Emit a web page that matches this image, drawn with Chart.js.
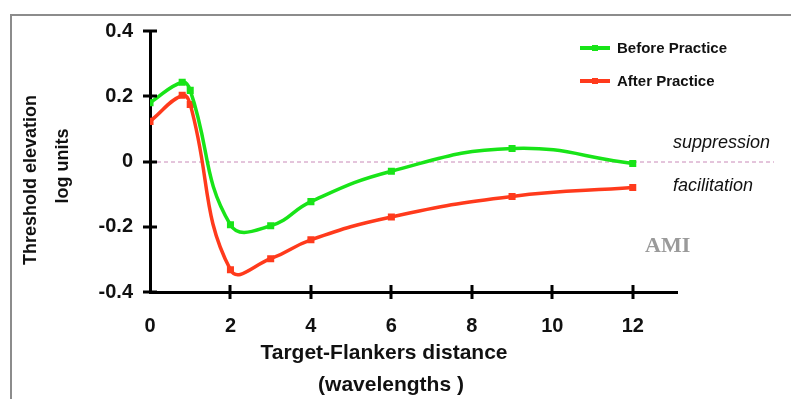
<!DOCTYPE html>
<html>
<head>
<meta charset="utf-8">
<script src="https://cdn.jsdelivr.net/npm/chart.js@4"></script>
<style>
  body { margin: 0; background: #fff; }
  #wrap { width: 791px; height: 399px; }
</style>
</head>
<body>
<div id="wrap"><canvas id="myChart" width="791" height="399"></canvas></div>
<script>
// distances in wavelengths, threshold elevation in log units
const distances = [0, 0.8, 1, 2, 3, 4, 6, 9, 12];
const beforePractice = [0.18, 0.243, 0.218, -0.194, -0.197, -0.123, -0.03, 0.04, -0.006];
const afterPractice = [0.123, 0.203, 0.175, -0.332, -0.298, -0.24, -0.17, -0.107, -0.08];

const xTicks = [0, 2, 4, 6, 8, 10, 12];
const yTicks = [-0.4, -0.2, 0, 0.2, 0.4];
const seriesLabels = ['Before Practice', 'After Practice'];
const seriesColors = ['#18e418', '#ff3a1c'];
const yTitle = ['Threshold elevation', 'log units'];
const xTitle = ['Target-Flankers distance', '(wavelengths )'];
const zoneLabels = ['suppression', 'facilitation'];
const watermark = 'AMI';

const FONT = '"Liberation Sans", Arial, sans-serif';

const toPoints = (ys) => distances.map((x, i) => ({ x: x, y: ys[i] }));

// frame, zero line, crossing ticks, legend and texts
const decorations = {
  id: 'decorations',
  beforeDraw(chart) {
    const ctx = chart.ctx;
    ctx.save();
    ctx.fillStyle = '#fff';
    ctx.fillRect(0, 0, chart.width, chart.height);
    ctx.strokeStyle = '#8c8c8c';
    ctx.lineWidth = 2;
    ctx.beginPath();
    ctx.moveTo(11, chart.height);
    ctx.lineTo(11, 15);
    ctx.lineTo(chart.width, 15);
    ctx.stroke();
    ctx.restore();
  },
  beforeDatasetsDraw(chart) {
    const ctx = chart.ctx;
    const { y } = chart.scales;
    const y0 = y.getPixelForValue(0);
    ctx.save();
    ctx.strokeStyle = '#c98ab8';
    ctx.lineWidth = 1;
    ctx.setLineDash([4, 3]);
    ctx.beginPath();
    ctx.moveTo(chart.chartArea.left + 7, y0 + 0.5);
    ctx.lineTo(774, y0 + 0.5);
    ctx.stroke();
    ctx.restore();
  },
  afterDraw(chart) {
    const ctx = chart.ctx;
    const { x, y } = chart.scales;
    const area = chart.chartArea;
    ctx.save();

    // ticks that cross the axis lines
    ctx.strokeStyle = '#000';
    ctx.lineWidth = 3;
    yTicks.forEach((v) => {
      const py = Math.round(y.getPixelForValue(v));
      ctx.beginPath();
      ctx.moveTo(area.left - 7, py);
      ctx.lineTo(area.left + 7, py);
      ctx.stroke();
    });
    xTicks.forEach((v) => {
      if (v === 0) return;
      const px = Math.round(x.getPixelForValue(v));
      ctx.beginPath();
      ctx.moveTo(px, area.bottom - 7);
      ctx.lineTo(px, area.bottom + 7);
      ctx.stroke();
    });

    // legend
    seriesLabels.forEach((label, i) => {
      const ly = 48 + i * 33;
      ctx.strokeStyle = seriesColors[i];
      ctx.lineWidth = 4;
      ctx.beginPath();
      ctx.moveTo(580, ly);
      ctx.lineTo(610, ly);
      ctx.stroke();
      ctx.fillStyle = seriesColors[i];
      ctx.fillRect(592, ly - 3, 6, 6);
      ctx.fillStyle = '#111';
      ctx.font = 'bold 15px ' + FONT;
      ctx.textAlign = 'left';
      ctx.textBaseline = 'middle';
      ctx.fillText(label, 617, ly + 1);
    });

    // y axis title (two rotated lines)
    ctx.fillStyle = '#111';
    ctx.font = 'bold 18px ' + FONT;
    ctx.textAlign = 'center';
    ctx.textBaseline = 'middle';
    ctx.save();
    ctx.translate(31, 180);
    ctx.rotate(-Math.PI / 2);
    ctx.fillText(yTitle[0], 0, 0);
    ctx.restore();
    ctx.save();
    ctx.translate(63, 166);
    ctx.rotate(-Math.PI / 2);
    ctx.fillText(yTitle[1], 0, 0);
    ctx.restore();

    // x axis title
    ctx.font = 'bold 21px ' + FONT;
    ctx.fillText(xTitle[0], 384, 353);
    ctx.fillText(xTitle[1], 391, 385);

    // suppression / facilitation
    const y0 = y.getPixelForValue(0);
    ctx.font = 'italic 18px ' + FONT;
    ctx.textAlign = 'left';
    ctx.textBaseline = 'alphabetic';
    ctx.fillText(zoneLabels[0], 673, y0 - 14);
    ctx.fillText(zoneLabels[1], 673, y0 + 29);

    // watermark
    ctx.fillStyle = '#9a9a9a';
    ctx.font = 'bold 22px "Liberation Serif", "Times New Roman", serif';
    ctx.fillText(watermark, 645, 252);

    ctx.restore();
  }
};

const ctx = document.getElementById('myChart').getContext('2d');

const chart = new Chart(ctx, {
  type: 'line',
  data: {
    datasets: [
      {
        label: seriesLabels[0],
        data: toPoints(beforePractice),
        borderColor: seriesColors[0],
        backgroundColor: seriesColors[0],
        borderWidth: 3.5,
        tension: 0.45,
        pointStyle: 'rect',
        pointRadius: 2.5,
        pointHoverRadius: 2.5
      },
      {
        label: seriesLabels[1],
        data: toPoints(afterPractice),
        borderColor: seriesColors[1],
        backgroundColor: seriesColors[1],
        borderWidth: 3.5,
        tension: 0.45,
        pointStyle: 'rect',
        pointRadius: 2.5,
        pointHoverRadius: 2.5
      }
    ]
  },
  options: {
    responsive: false,
    animation: false,
    events: [],
    layout: {
      padding: { left: 0, top: 31, right: 114, bottom: 0 }
    },
    plugins: {
      legend: { display: false },
      tooltip: { enabled: false }
    },
    scales: {
      x: {
        type: 'linear',
        min: 0,
        max: 13.1,
        afterBuildTicks: (scale) => { scale.ticks = xTicks.map((v) => ({ value: v })); },
        afterFit: (scale) => { scale.height = 107; },
        grid: { display: false, drawTicks: false },
        border: { display: true, color: '#000', width: 3 },
        ticks: {
          padding: 22,
          color: '#111',
          font: { family: FONT, size: 20, weight: 'bold' },
          callback: (v) => String(v)
        }
      },
      y: {
        min: -0.4,
        max: 0.4,
        afterBuildTicks: (scale) => { scale.ticks = yTicks.map((v) => ({ value: v })); },
        afterFit: (scale) => { scale.width = 150; },
        grid: { display: false, drawTicks: false },
        border: { display: true, color: '#000', width: 3 },
        ticks: {
          padding: 17,
          color: '#111',
          font: { family: FONT, size: 20, weight: 'bold' },
          callback: (v) => String(v)
        }
      }
    }
  },
  plugins: [decorations]
});
</script>
</body>
</html>
